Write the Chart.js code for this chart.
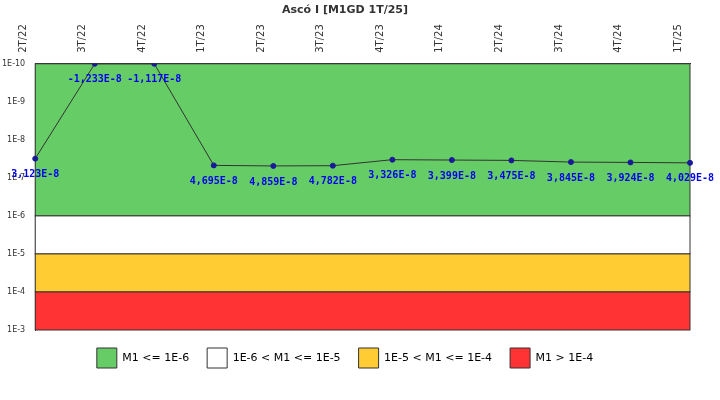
<!DOCTYPE html>
<html>
<head>
<meta charset="utf-8">
<script src="https://cdn.jsdelivr.net/npm/chart.js@4/dist/chart.umd.min.js"></script>
<style>
  body { margin: 0; background: #fff; }
</style>
</head>
<body>
<canvas id="chart" width="720" height="400"></canvas>
<script>
// categories and values
const quarters = ["2T/22", "3T/22", "4T/22", "1T/23", "2T/23", "3T/23", "4T/23", "1T/24", "2T/24", "3T/24", "4T/24", "1T/25"];
const m1Values = [3.123e-8, -1.233e-8, -1.117e-8, 4.695e-8, 4.859e-8, 4.782e-8, 3.326e-8, 3.399e-8, 3.475e-8, 3.845e-8, 3.924e-8, 4.029e-8];

// bands: [from, to]
const bandLimits = [[1e-10, 1e-6], [1e-6, 1e-5], [1e-5, 1e-4], [1e-4, 1e-3]];
const bandColors = ["#66cc66", "#ffffff", "#ffcc33", "#ff3333"];
const bandNames = ["M1 <= 1E-6", "1E-6 < M1 <= 1E-5", "1E-5 < M1 <= 1E-4", "M1 > 1E-4"];

const yMin = 1e-10, yMax = 1e-3;

// non-positive values can't go on a log axis, they sit at the top edge
const plotted = m1Values.map(v => v > 0 ? v : yMin);

function fmt(v) {
  return v.toExponential(3).replace(".", ",").replace("e", "E");
}

const bandsPlugin = {
  id: "bands",
  beforeDatasetsDraw(chart) {
    const { ctx, chartArea, scales } = chart;
    const y = scales.y;
    ctx.save();
    bandLimits.forEach((b, i) => {
      const y1 = y.getPixelForValue(b[0]);
      const y2 = y.getPixelForValue(b[1]);
      ctx.fillStyle = bandColors[i];
      ctx.fillRect(chartArea.left, y1, chartArea.right - chartArea.left, y2 - y1);
      ctx.strokeStyle = "#333";
      ctx.lineWidth = 1;
      ctx.strokeRect(chartArea.left, y1, chartArea.right - chartArea.left, y2 - y1);
    });
    ctx.restore();
  },
  afterDatasetsDraw(chart) {
    const { ctx } = chart;
    const meta = chart.getDatasetMeta(0);
    ctx.save();
    ctx.font = "bold 10px 'DejaVu Sans Mono'";
    ctx.fillStyle = "#0000ee";
    ctx.textAlign = "center";
    ctx.textBaseline = "middle";
    meta.data.forEach((pt, i) => {
      ctx.fillText(fmt(m1Values[i]), pt.x, pt.y + 16);
    });
    ctx.restore();
  }
};

new Chart(document.getElementById("chart"), {
  type: "line",
  data: {
    labels: quarters,
    datasets: [{
      label: "M1",
      data: plotted,
      borderColor: "#333333",
      borderWidth: 1,
      pointRadius: 2.5,
      pointBackgroundColor: "#1a1a99",
      pointBorderColor: "#1a1a99",
      tension: 0
    }]
  },
  options: {
    responsive: false,
    animation: false,
    layout: { padding: { left: 0, right: 30, top: 0, bottom: 22 } },
    plugins: {
      title: {
        display: true,
        text: "Ascó I [M1GD 1T/25]",
        font: { family: "DejaVu Sans", size: 11, weight: "bold" },
        color: "#333",
        padding: { top: 4, bottom: 4 }
      },
      legend: {
        position: "bottom",
        labels: {
          boxWidth: 20,
          boxHeight: 20,
          padding: 18,
          color: "#333",
          font: { family: "DejaVu Sans", size: 11 },
          generateLabels: () => bandNames.map((n, i) => ({
            text: n,
            fillStyle: bandColors[i],
            strokeStyle: "#333",
            lineWidth: 1,
            hidden: false
          }))
        },
        onClick: () => {}
      },
      tooltip: { enabled: false }
    },
    scales: {
      x: {
        position: "top",
        offset: false,
        grid: { display: false },
        border: { color: "#333" },
        ticks: {
          minRotation: 90, maxRotation: 90,
          color: "#333",
          font: { family: "DejaVu Sans", size: 10 }
        }
      },
      y: {
        type: "logarithmic",
        reverse: true,
        min: yMin,
        max: yMax,
        grid: { display: false },
        border: { color: "#333" },
        afterBuildTicks(scale) {
          const t = [];
          for (let e = -10; e <= -3; e++) t.push({ value: Math.pow(10, e) });
          scale.ticks = t;
        },
        ticks: {
          color: "#333",
          font: { family: "DejaVu Sans", size: 8 },
          padding: 2,
          callback: v => "1E" + Math.round(Math.log10(v))
        }
      }
    }
  },
  plugins: [bandsPlugin]
});
</script>
</body>
</html>
